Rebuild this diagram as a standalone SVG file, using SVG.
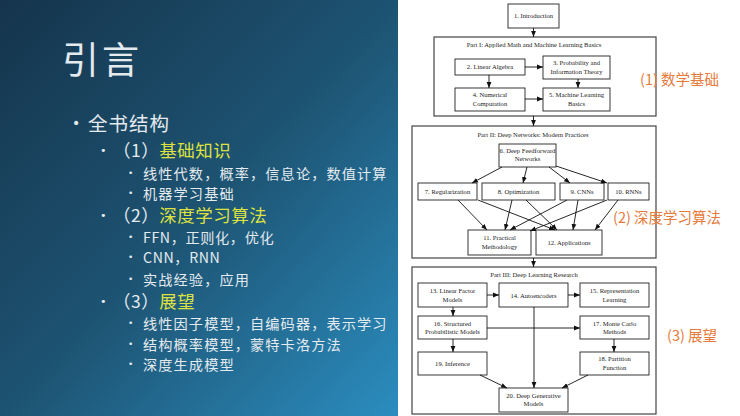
<svg xmlns="http://www.w3.org/2000/svg" width="740" height="416" viewBox="0 0 740 416">
<defs>
<linearGradient id="bg" x1="0" y1="0" x2="1" y2="1">
<stop offset="0" stop-color="#15344c"/>
<stop offset="0.5" stop-color="#1d5372"/>
<stop offset="1" stop-color="#2b8dbf"/>
</linearGradient>
<marker id="ah" markerUnits="userSpaceOnUse" markerWidth="6" markerHeight="6" viewBox="0 0 6 6" refX="6" refY="3" orient="auto">
<path d="M0,0.6 L6,3 L0,5.4 Z" fill="#111"/>
</marker>
<style>
.w{fill:#e4eaee;font-family:"Noto Sans CJK SC","Noto Sans",sans-serif}
.y{fill:#dfe23e}
.b{fill:#e4eaee;font-family:"DejaVu Sans",sans-serif}
.lbl{fill:#e57b3c;font-family:"Noto Sans CJK SC","Noto Sans",sans-serif;font-size:14.5px}
.part{fill:none;stroke:#444;stroke-width:1.2}
.box{fill:#fff;stroke:#222;stroke-width:0.9}
.t{fill:#222;font-family:"Liberation Serif","DejaVu Serif",serif;font-size:6.6px;text-anchor:middle}
.c line,.c path{stroke:#111;stroke-width:0.9;fill:none;marker-end:url(#ah)}
</style>
</defs>
<rect x="0" y="0" width="398" height="416" fill="url(#bg)"/>
<rect x="398" y="0" width="342" height="416" fill="#ffffff"/>

<g id="slide-text">
<text class="w" x="62" y="74" font-size="37" letter-spacing="3">引言</text>
<text class="b" x="72" y="128" font-size="14">•</text>
<text class="w" x="88" y="131" font-size="19.5" letter-spacing="1">全书结构</text>
<text class="b" x="100" y="154" font-size="11">•</text>
<text class="w" x="113" y="156.5" font-size="17.5" letter-spacing="0.5">（1）<tspan class="y">基础知识</tspan></text>
<text class="b" x="128" y="176" font-size="9">•</text>
<text class="w" x="143" y="178.5" font-size="14.2" letter-spacing="1.1">线性代数，概率，信息论，数值计算</text>
<text class="b" x="128" y="196" font-size="9">•</text>
<text class="w" x="143" y="198.5" font-size="14.2" letter-spacing="1.1">机器学习基础</text>
<text class="b" x="100" y="219" font-size="11">•</text>
<text class="w" x="113" y="221.5" font-size="17.5" letter-spacing="0.5">（2）<tspan class="y">深度学习算法</tspan></text>
<text class="b" x="128" y="240" font-size="9">•</text>
<text class="w" x="143" y="242.5" font-size="14.2" letter-spacing="0.6">FFN，正则化，优化</text>
<text class="b" x="128" y="260" font-size="9">•</text>
<text class="w" x="143" y="262.5" font-size="14.2" letter-spacing="0.6">CNN，RNN</text>
<text class="b" x="128" y="282" font-size="9">•</text>
<text class="w" x="143" y="284.5" font-size="14.2" letter-spacing="1.1">实战经验，应用</text>
<text class="b" x="100" y="305" font-size="11">•</text>
<text class="w" x="113" y="307.5" font-size="17.5" letter-spacing="0.5">（3）<tspan class="y">展望</tspan></text>
<text class="b" x="128" y="326" font-size="9">•</text>
<text class="w" x="143" y="328.5" font-size="14.2" letter-spacing="1.1">线性因子模型，自编码器，表示学习</text>
<text class="b" x="128" y="347" font-size="9">•</text>
<text class="w" x="143" y="349.5" font-size="14.2" letter-spacing="1.1">结构概率模型，蒙特卡洛方法</text>
<text class="b" x="128" y="367" font-size="9">•</text>
<text class="w" x="143" y="369.5" font-size="14.2" letter-spacing="1.1">深度生成模型</text>
</g>

<g id="part1">
<rect class="part" x="434" y="37" width="222" height="79"/>
<text class="t" x="534" y="47">Part I: Applied Math and Machine Learning Basics</text>
</g>
<g id="part2">
<rect class="part" x="412" y="126" width="244" height="132"/>
<text class="t" x="533" y="137">Part II: Deep Networks: Modern Practices</text>
</g>
<g id="part3">
<rect class="part" x="412" y="267" width="244" height="147"/>
<text class="t" x="534" y="277">Part III: Deep Learning Research</text>
</g>

<g id="n1"><rect class="box" x="508" y="4" width="51" height="24"/><text class="t" x="533.5" y="18">1. Introduction</text></g>
<g id="n2"><rect class="box" x="455" y="59" width="70" height="16"/><text class="t" x="490" y="69">2. Linear Algebra</text></g>
<g id="n3"><rect class="box" x="543" y="56" width="67" height="23"/><text class="t" x="576.5" y="64.5">3. Probability and</text><text class="t" x="576.5" y="73.5">Information Theory</text></g>
<g id="n4"><rect class="box" x="455" y="88" width="70" height="23"/><text class="t" x="490" y="97">4. Numerical</text><text class="t" x="490" y="105.5">Computation</text></g>
<g id="n5"><rect class="box" x="543" y="88" width="67" height="23"/><text class="t" x="576.5" y="97">5. Machine Learning</text><text class="t" x="576.5" y="105.5">Basics</text></g>

<g id="n6"><rect class="box" x="499" y="144" width="57" height="23"/><text class="t" x="527.5" y="153">6. Deep Feedforward</text><text class="t" x="527.5" y="161">Networks</text></g>
<g id="n7"><rect class="box" x="418" y="183" width="59" height="17"/><text class="t" x="447.5" y="194">7. Regularization</text></g>
<g id="n8"><rect class="box" x="482" y="183" width="73" height="17"/><text class="t" x="518.5" y="194">8. Optimization</text></g>
<g id="n9"><rect class="box" x="560" y="183" width="44" height="17"/><text class="t" x="582" y="194">9.  CNNs</text></g>
<g id="n10"><rect class="box" x="608" y="183" width="41" height="17"/><text class="t" x="628.5" y="194">10.  RNNs</text></g>
<g id="n11"><rect class="box" x="468" y="230" width="63" height="25"/><text class="t" x="499.5" y="239.5">11. Practical</text><text class="t" x="499.5" y="248.5">Methodology</text></g>
<g id="n12"><rect class="box" x="536" y="230" width="66" height="25"/><text class="t" x="569" y="244.5">12. Applications</text></g>

<g id="n13"><rect class="box" x="418" y="283" width="69" height="24"/><text class="t" x="452.5" y="292.5">13. Linear Factor</text><text class="t" x="452.5" y="301.5">Models</text></g>
<g id="n14"><rect class="box" x="499" y="283" width="69" height="24"/><text class="t" x="533.5" y="297.5">14. Autoencoders</text></g>
<g id="n15"><rect class="box" x="580" y="283" width="69" height="24"/><text class="t" x="614.5" y="292.5">15. Representation</text><text class="t" x="614.5" y="301.5">Learning</text></g>
<g id="n16"><rect class="box" x="418" y="316" width="69" height="23"/><text class="t" x="452.5" y="325.5">16. Structured</text><text class="t" x="452.5" y="334">Probabilistic Models</text></g>
<g id="n17"><rect class="box" x="580" y="316" width="69" height="23"/><text class="t" x="614.5" y="325.5">17. Monte Carlo</text><text class="t" x="614.5" y="334">Methods</text></g>
<g id="n19"><rect class="box" x="418" y="352" width="69" height="23"/><text class="t" x="452.5" y="365.5">19. Inference</text></g>
<g id="n18"><rect class="box" x="580" y="352" width="69" height="23"/><text class="t" x="614.5" y="361">18. Partition</text><text class="t" x="614.5" y="369.5">Function</text></g>
<g id="n20"><rect class="box" x="499" y="388" width="69" height="24"/><text class="t" x="533.5" y="397.5">20. Deep Generative</text><text class="t" x="533.5" y="406">Models</text></g>

<g id="connectors" class="c">
<line x1="533.5" y1="28" x2="533.5" y2="37"/>
<line x1="525" y1="67" x2="543" y2="67"/>
<line x1="489" y1="75" x2="489" y2="88"/>
<line x1="578" y1="79" x2="578" y2="88"/>
<line x1="525" y1="99" x2="543" y2="99"/>
<line x1="533.5" y1="116" x2="533.5" y2="126"/>
<line x1="502" y1="167" x2="472" y2="183"/>
<line x1="527" y1="167" x2="523" y2="183"/>
<line x1="549" y1="167" x2="570" y2="183"/>
<line x1="556" y1="166" x2="607" y2="183"/>
<line x1="458" y1="200" x2="487" y2="230"/>
<line x1="478" y1="200" x2="555" y2="230"/>
<line x1="512" y1="200" x2="505" y2="230"/>
<line x1="526" y1="200" x2="557" y2="230"/>
<line x1="567" y1="200" x2="510" y2="230"/>
<line x1="578" y1="200" x2="573" y2="230"/>
<line x1="607" y1="200" x2="530" y2="231"/>
<line x1="618" y1="200" x2="595" y2="230"/>
<line x1="533.5" y1="258" x2="533.5" y2="267"/>
<line x1="487" y1="295" x2="499" y2="295"/>
<line x1="568" y1="295" x2="580" y2="295"/>
<line x1="453" y1="307" x2="453" y2="316"/>
<line x1="487" y1="328" x2="580" y2="328"/>
<line x1="453" y1="339" x2="453" y2="352"/>
<line x1="614" y1="339" x2="614" y2="352"/>
<line x1="534" y1="307" x2="534" y2="388"/>
<line x1="480" y1="375" x2="507" y2="388"/>
<line x1="588" y1="375" x2="562" y2="388"/>
</g>

<g id="labels">
<text class="lbl" x="640" y="84.5">(1) 数学基础</text>
<text class="lbl" x="613" y="222.5">(2) 深度学习算法</text>
<text class="lbl" x="667" y="340.5">(3) 展望</text>
</g>
</svg>
